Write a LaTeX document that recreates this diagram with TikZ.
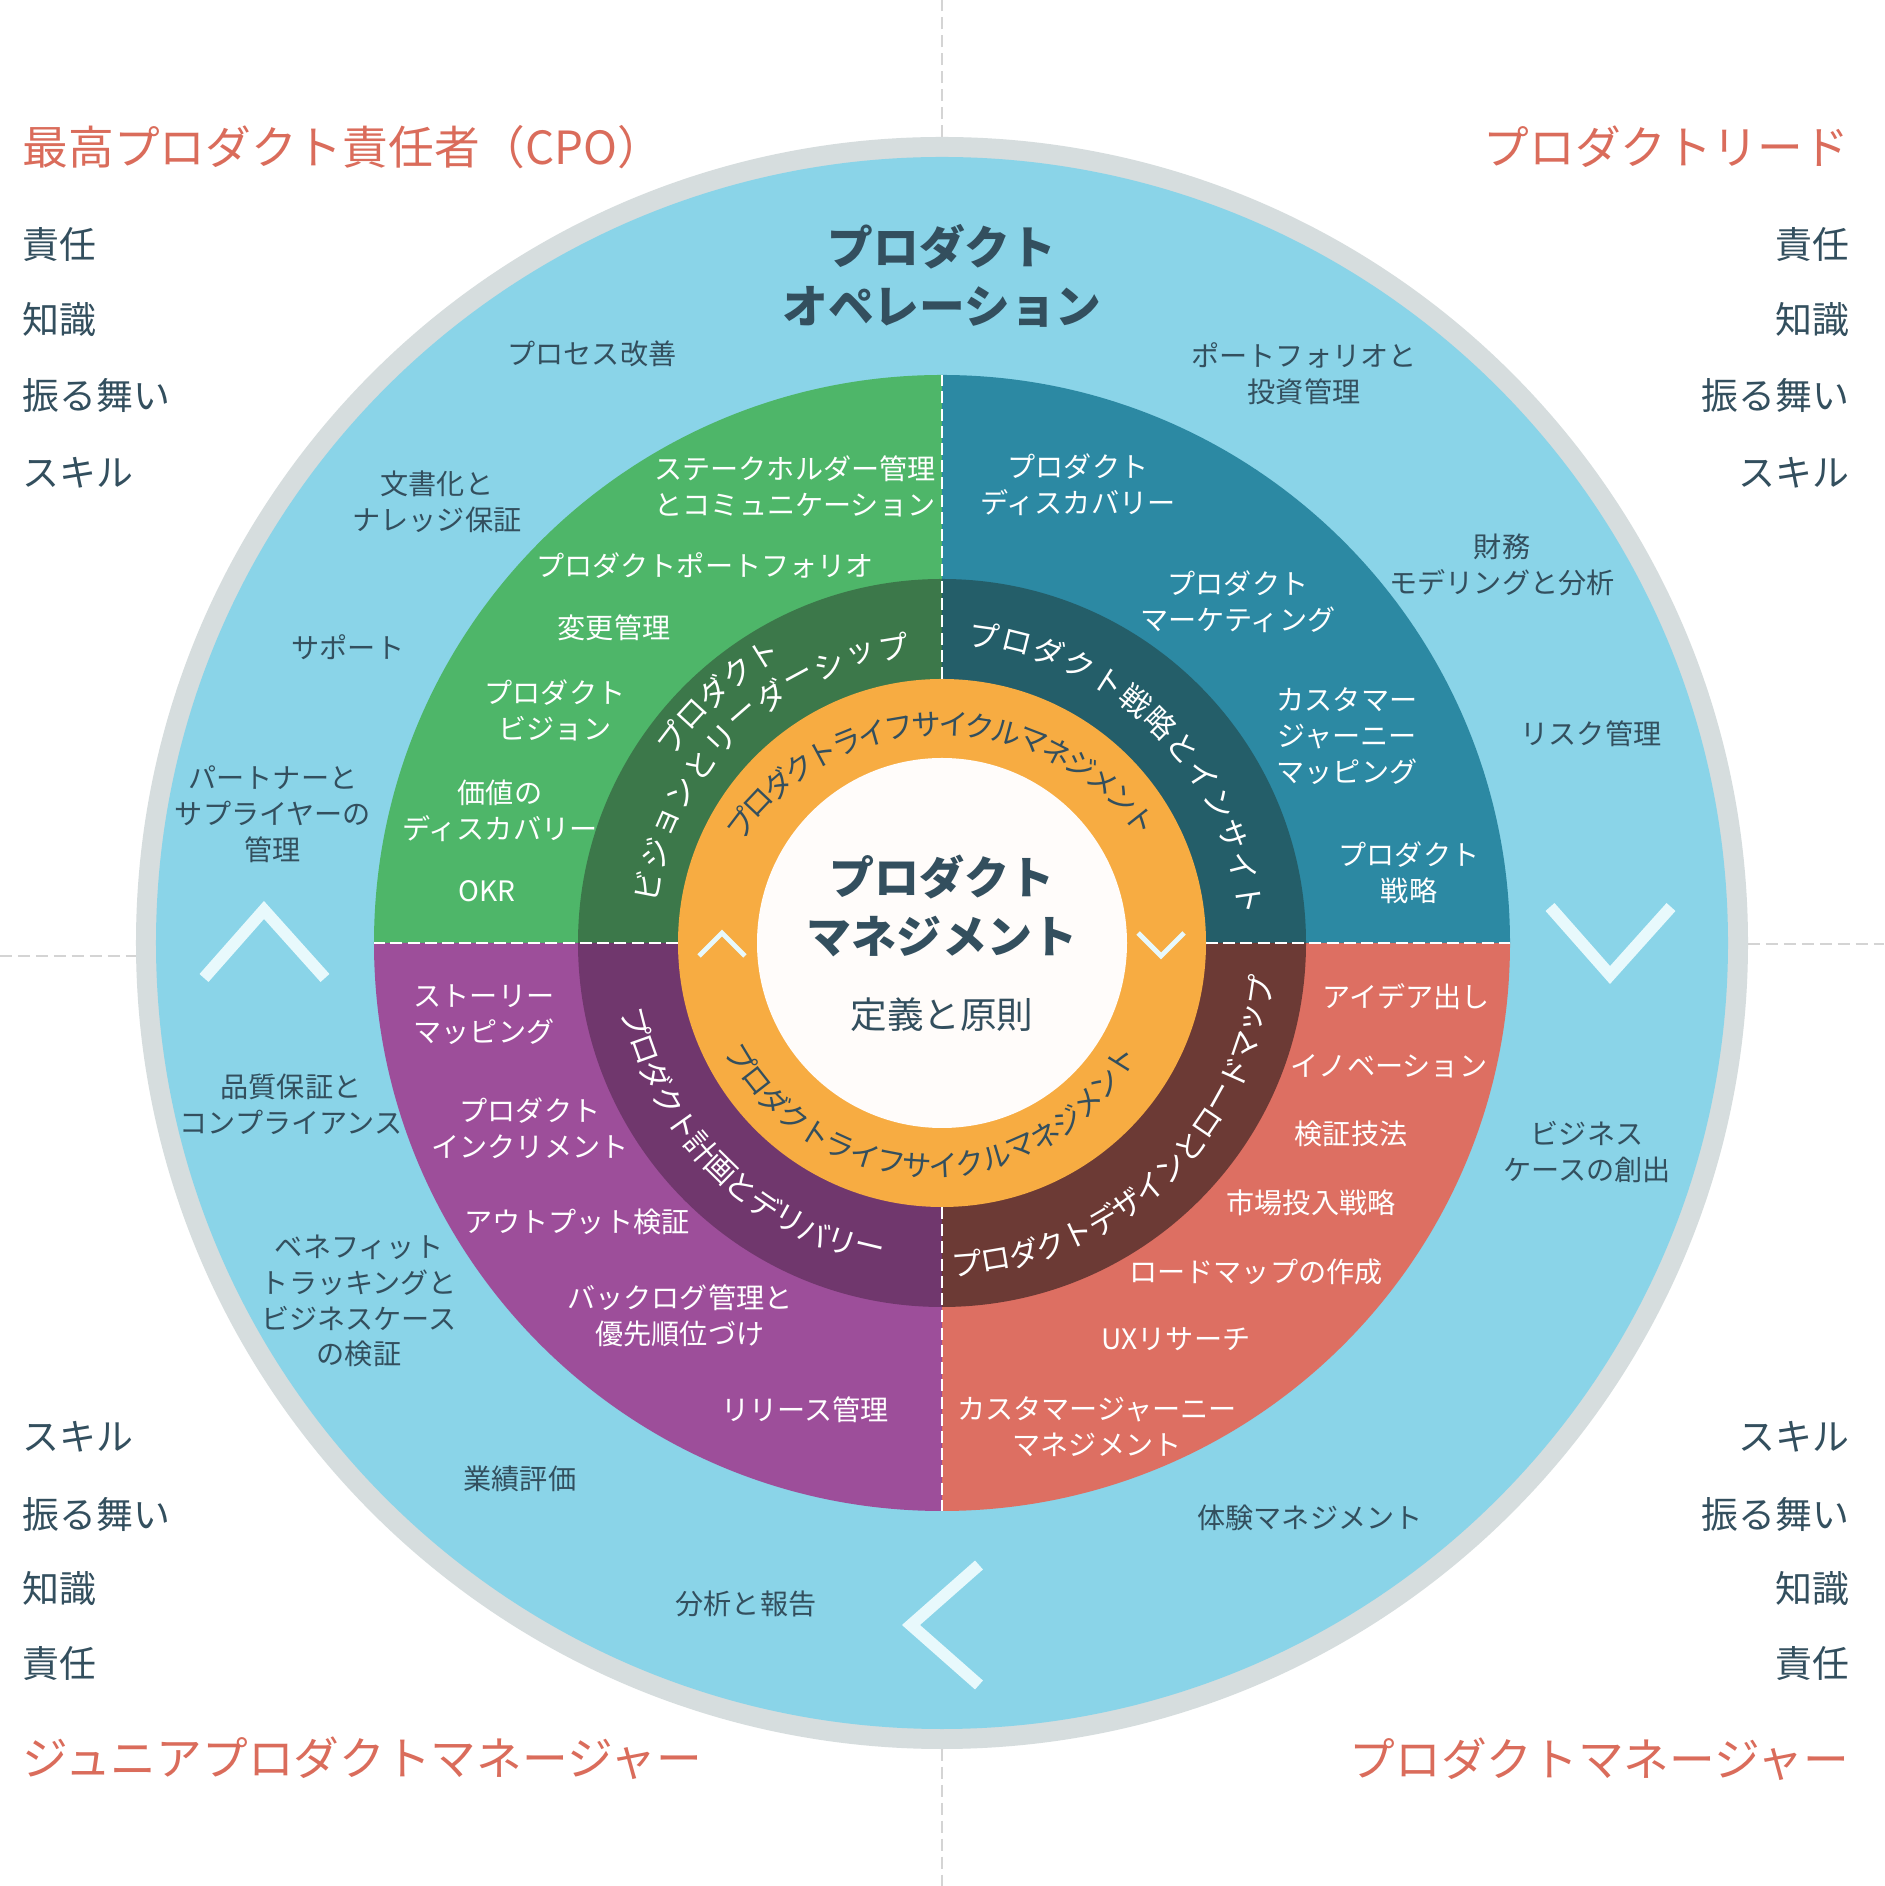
\documentclass[tikz,border=0pt]{standalone}
\usepackage{fontspec}
\setmainfont{Noto Sans CJK JP}

\definecolor{ringgray}{RGB}{214,221,222}
\definecolor{skyblue}{RGB}{138,212,232}
\definecolor{visgreen}{RGB}{78,182,105}
\definecolor{visdark}{RGB}{60,120,74}
\definecolor{stratteal}{RGB}{44,137,163}
\definecolor{stratdark}{RGB}{36,94,105}
\definecolor{planpurple}{RGB}{157,78,154}
\definecolor{plandark}{RGB}{112,55,109}
\definecolor{designred}{RGB}{221,111,98}
\definecolor{designdark}{RGB}{108,58,53}
\definecolor{lifeorange}{RGB}{247,172,66}
\definecolor{ink}{RGB}{51,79,94}
\definecolor{rolered}{RGB}{218,108,91}
\definecolor{chevwhite}{RGB}{232,249,252}
\definecolor{guidegray}{RGB}{212,212,212}

\begin{document}
\begin{tikzpicture}[x=0.01cm, y=0.01cm,
    lbl/.style={font=\fontsize{8}{10.2}\selectfont, text=ink, align=center, inner sep=0pt},
    wlbl/.style={lbl, text=white},
    facet/.style={font=\fontsize{10.5}{12}\selectfont, text=ink, inner sep=0pt},
    role/.style={font=\fontsize{13}{15}\selectfont, text=rolered, inner sep=0pt},
    heading/.style={font=\bfseries\fontsize{12.8}{17}\selectfont, text=ink, align=center, inner sep=0pt},
    arcchar/.style={font=\fontsize{8.4}{9}\selectfont, text=ink, inner sep=0pt},
    ringchar/.style={font=\fontsize{8.7}{9}\selectfont, text=white, inner sep=0pt},
    divider/.style={white, line width=0.8pt, dash pattern=on 3.4pt off 1.5pt},
    guideline/.style={guidegray, line width=0.6pt, dash pattern=on 3.4pt off 1.7pt},
    bigchev/.style={chevwhite, line width=3.4pt},
    smallchev/.style={chevwhite, line width=1.4pt}]
    \useasboundingbox[fill=white] (-942,-943) rectangle (942,943);

    % Draw the outer rings
    \fill[ringgray] (0,0) circle[radius=806];
    \fill[skyblue] (0,0) circle[radius=786];

    % Draw the four practice quadrants
    \fill[visgreen] (0,0) -- (180:568) arc[start angle=180, end angle=90, radius=568] -- cycle;
    \fill[stratteal] (0,0) -- (90:568) arc[start angle=90, end angle=0, radius=568] -- cycle;
    \fill[planpurple] (0,0) -- (270:568) arc[start angle=270, end angle=180, radius=568] -- cycle;
    \fill[designred] (0,0) -- (0:568) arc[start angle=360, end angle=270, radius=568] -- cycle;

    % Draw the inner (darker) quadrants
    \fill[visdark] (0,0) -- (180:364) arc[start angle=180, end angle=90, radius=364] -- cycle;
    \fill[stratdark] (0,0) -- (90:364) arc[start angle=90, end angle=0, radius=364] -- cycle;
    \fill[plandark] (0,0) -- (270:364) arc[start angle=270, end angle=180, radius=364] -- cycle;
    \fill[designdark] (0,0) -- (0:364) arc[start angle=360, end angle=270, radius=364] -- cycle;

    % Draw the lifecycle ring and the core
    \fill[lifeorange] (0,0) circle[radius=264];
    \fill[white!98!orange] (0,0) circle[radius=185];

    % Dashed dividers between the quadrants
    \foreach \a in {0,90,180,270}
        \draw[divider] (\a:264) -- (\a:568);

    % Dashed guides out to the corners
    \draw[guideline] (0,806) -- (0,943);
    \draw[guideline] (0,-806) -- (0,-943);
    \draw[guideline] (-942,-13) -- (-806,-13);
    \draw[guideline] (806,-1) -- (942,-1);

    % Chevrons
    \draw[bigchev] (-738,-35) -- (-678,33) -- (-617,-35);
    \draw[bigchev] (608,36) -- (668,-32) -- (729,36);
    \draw[bigchev] (37,-622) -- (-31,-682) -- (37,-742);
    \draw[smallchev] (-243,-13) -- (-220,10) -- (-197,-13);
    \draw[smallchev] (196,10) -- (219,-13) -- (242,10);

    % Core text
    \node[heading] (core) at (0,37) {プロダクト\\マネジメント};
    \node[facet, font=\fontsize{10.4}{12}\selectfont] (core-sub) at (0,-72) {定義と原則};
    \node[heading, font=\bfseries\fontsize{13}{16.8}\selectfont] (ops) at (0,667) {プロダクト\\オペレーション};

    % Lifecycle text, upper arc
    \begin{scope}[shift={(0,-34)}]
    \foreach \ch [count=\i from 0] in {プ,ロ,ダ,ク,ト,ラ,イ,フ,サ,イ,ク,ル,マ,ネ,ジ,メ,ン,ト}
        \node[arcchar, rotate={52.7-6.14*\i}] (lcu-\i) at ({142.7-6.14*\i}:253) {\ch};
    \end{scope}
    % Lifecycle text, lower arc
    \begin{scope}[shift={(-10,0)}]
    \foreach \ch [count=\i from 0] in {プ,ロ,ダ,ク,ト,ラ,イ,フ,サ,イ,ク,ル,マ,ネ,ジ,メ,ン,ト}
        \node[arcchar, rotate={301.2+6.87*\i}] (lcl-\i) at ({211.2+6.87*\i}:223) {\ch};
    \end{scope}

    % Inner ring titles
    \foreach \ch [count=\i from 0] in {プ,ロ,ダ,ク,ト}
        \node[ringchar, rotate={52.8-5.25*\i}] (vis-a\i) at ({142.8-5.25*\i}:339) {\ch};
    \foreach \ch [count=\i from 0] in {ビ,ジ,ョ,ン,と,リ,ー,ダ,ー,シ,ッ,プ}
        \node[ringchar, rotate={79-6.33*\i}] (vis-b\i) at ({169-6.33*\i}:300) {\ch};
    \foreach \ch [count=\i from 0] in {プ,ロ,ダ,ク,ト,戦,略,と,イ,ン,サ,イ,ト}
        \node[ringchar, rotate={-7.9-6.16*\i}] (strat-\i) at ({82.1-6.16*\i}:310) {\ch};
    \foreach \ch [count=\i from 0] in {プ,ロ,ダ,ク,ト,計,画,と,デ,リ,バ,リ,ー}
        \node[ringchar, rotate={284.5+5.17*\i}] (plan-\i) at ({194.5+5.17*\i}:316) {\ch};
    \foreach \ch [count=\i from 0] in {プ,ロ,ダ,ク,ト,デ,ザ,イ,ン,と,ロ,ー,ド,マ,ッ,プ}
        \node[ringchar, rotate={364.5+5.13*\i}] (design-\i) at ({274.5+5.13*\i}:321) {\ch};

    % Vision quadrant
    \node[wlbl] (stake) at (-147,457) {ステークホルダー管理\\とコミュニケーション};
    \node[wlbl] (portfolio) at (-237,377) {プロダクトポートフォリオ};
    \node[wlbl] (change) at (-328,315) {変更管理};
    \node[wlbl] (vision) at (-387,233) {プロダクト\\ビジョン};
    \node[wlbl] (value) at (-442,132) {価値の\\ディスカバリー};
    \node[wlbl] (okr) at (-455,52) {OKR};

    % Strategy quadrant
    \node[wlbl] (discovery) at (136,458) {プロダクト\\ディスカバリー};
    \node[wlbl] (marketing) at (296,341) {プロダクト\\マーケティング};
    \node[wlbl] (journeymap) at (405,207) {カスタマー\\ジャーニー\\マッピング};
    \node[wlbl] (strategy) at (467,70) {プロダクト\\戦略};

    % Planning quadrant
    \node[wlbl] (story) at (-458,-72) {ストーリー\\マッピング};
    \node[wlbl] (increment) at (-412,-185) {プロダクト\\インクリメント};
    \node[wlbl] (output) at (-365,-279) {アウトプット検証};
    \node[wlbl] (backlog) at (-262,-373) {バックログ管理と\\優先順位づけ};
    \node[wlbl] (release) at (-137,-467) {リリース管理};

    % Design quadrant
    \node[wlbl] (ideas) at (464,-54) {アイデア出し};
    \node[wlbl] (innovation) at (447,-123) {イノベーション};
    \node[wlbl] (validation) at (409,-191) {検証技法};
    \node[wlbl] (gtm) at (369,-260) {市場投入戦略};
    \node[wlbl] (roadmap) at (314,-329) {ロードマップの作成};
    \node[wlbl] (uxr) at (234,-396) {UXリサーチ};
    \node[wlbl] (journeymgmt) at (155,-484) {カスタマージャーニー\\マネジメント};

    % Operations ring
    \node[lbl] (process) at (-350,589) {プロセス改善};
    \node[lbl] (docs) at (-505,441) {文書化と\\ナレッジ保証};
    \node[lbl] (support) at (-594,296) {サポート};
    \node[lbl] (partners) at (-669,129) {パートナーと\\サプライヤーの\\管理};
    \node[lbl] (invest) at (362,569) {ポートフォリオと\\投資管理};
    \node[lbl] (finance) at (560,378) {財務\\モデリングと分析};
    \node[lbl] (risk) at (649,209) {リスク管理};
    \node[lbl] (bizcase) at (645,-209) {ビジネス\\ケースの創出};
    \node[lbl] (experience) at (368,-575) {体験マネジメント};
    \node[lbl] (reporting) at (-196,-661) {分析と報告};
    \node[lbl] (perf) at (-422,-536) {業績評価};
    \node[lbl] (benefit) at (-583,-358) {ベネフィット\\トラッキングと\\ビジネスケース\\の検証};
    \node[lbl] (quality) at (-651,-161) {品質保証と\\コンプライアンス};

    % Roles in the corners
    \node[role, anchor=west] (cpo) at (-920,796) {最高プロダクト責任者（CPO）};
    \node[role, anchor=east] (lead) at (908,796) {プロダクトリード};
    \node[role, anchor=west] (junior) at (-920,-815) {ジュニアプロダクトマネージャー};
    \node[role, anchor=east] (pm) at (908,-816) {プロダクトマネージャー};

    % Facets under each role
    \foreach \t/\y [count=\i] in {責任/698, 知識/623, 振る舞い/547, スキル/470} {
        \node[facet, anchor=west] (tl-\i) at (-920,\y) {\t};
        \node[facet, anchor=east] (tr-\i) at (908,\y) {\t};
    }
    \foreach \t/\y [count=\i] in {スキル/-494, 振る舞い/-571, 知識/-646, 責任/-721} {
        \node[facet, anchor=west] (bl-\i) at (-920,\y) {\t};
        \node[facet, anchor=east] (br-\i) at (908,\y) {\t};
    }
\end{tikzpicture}
\end{document}
